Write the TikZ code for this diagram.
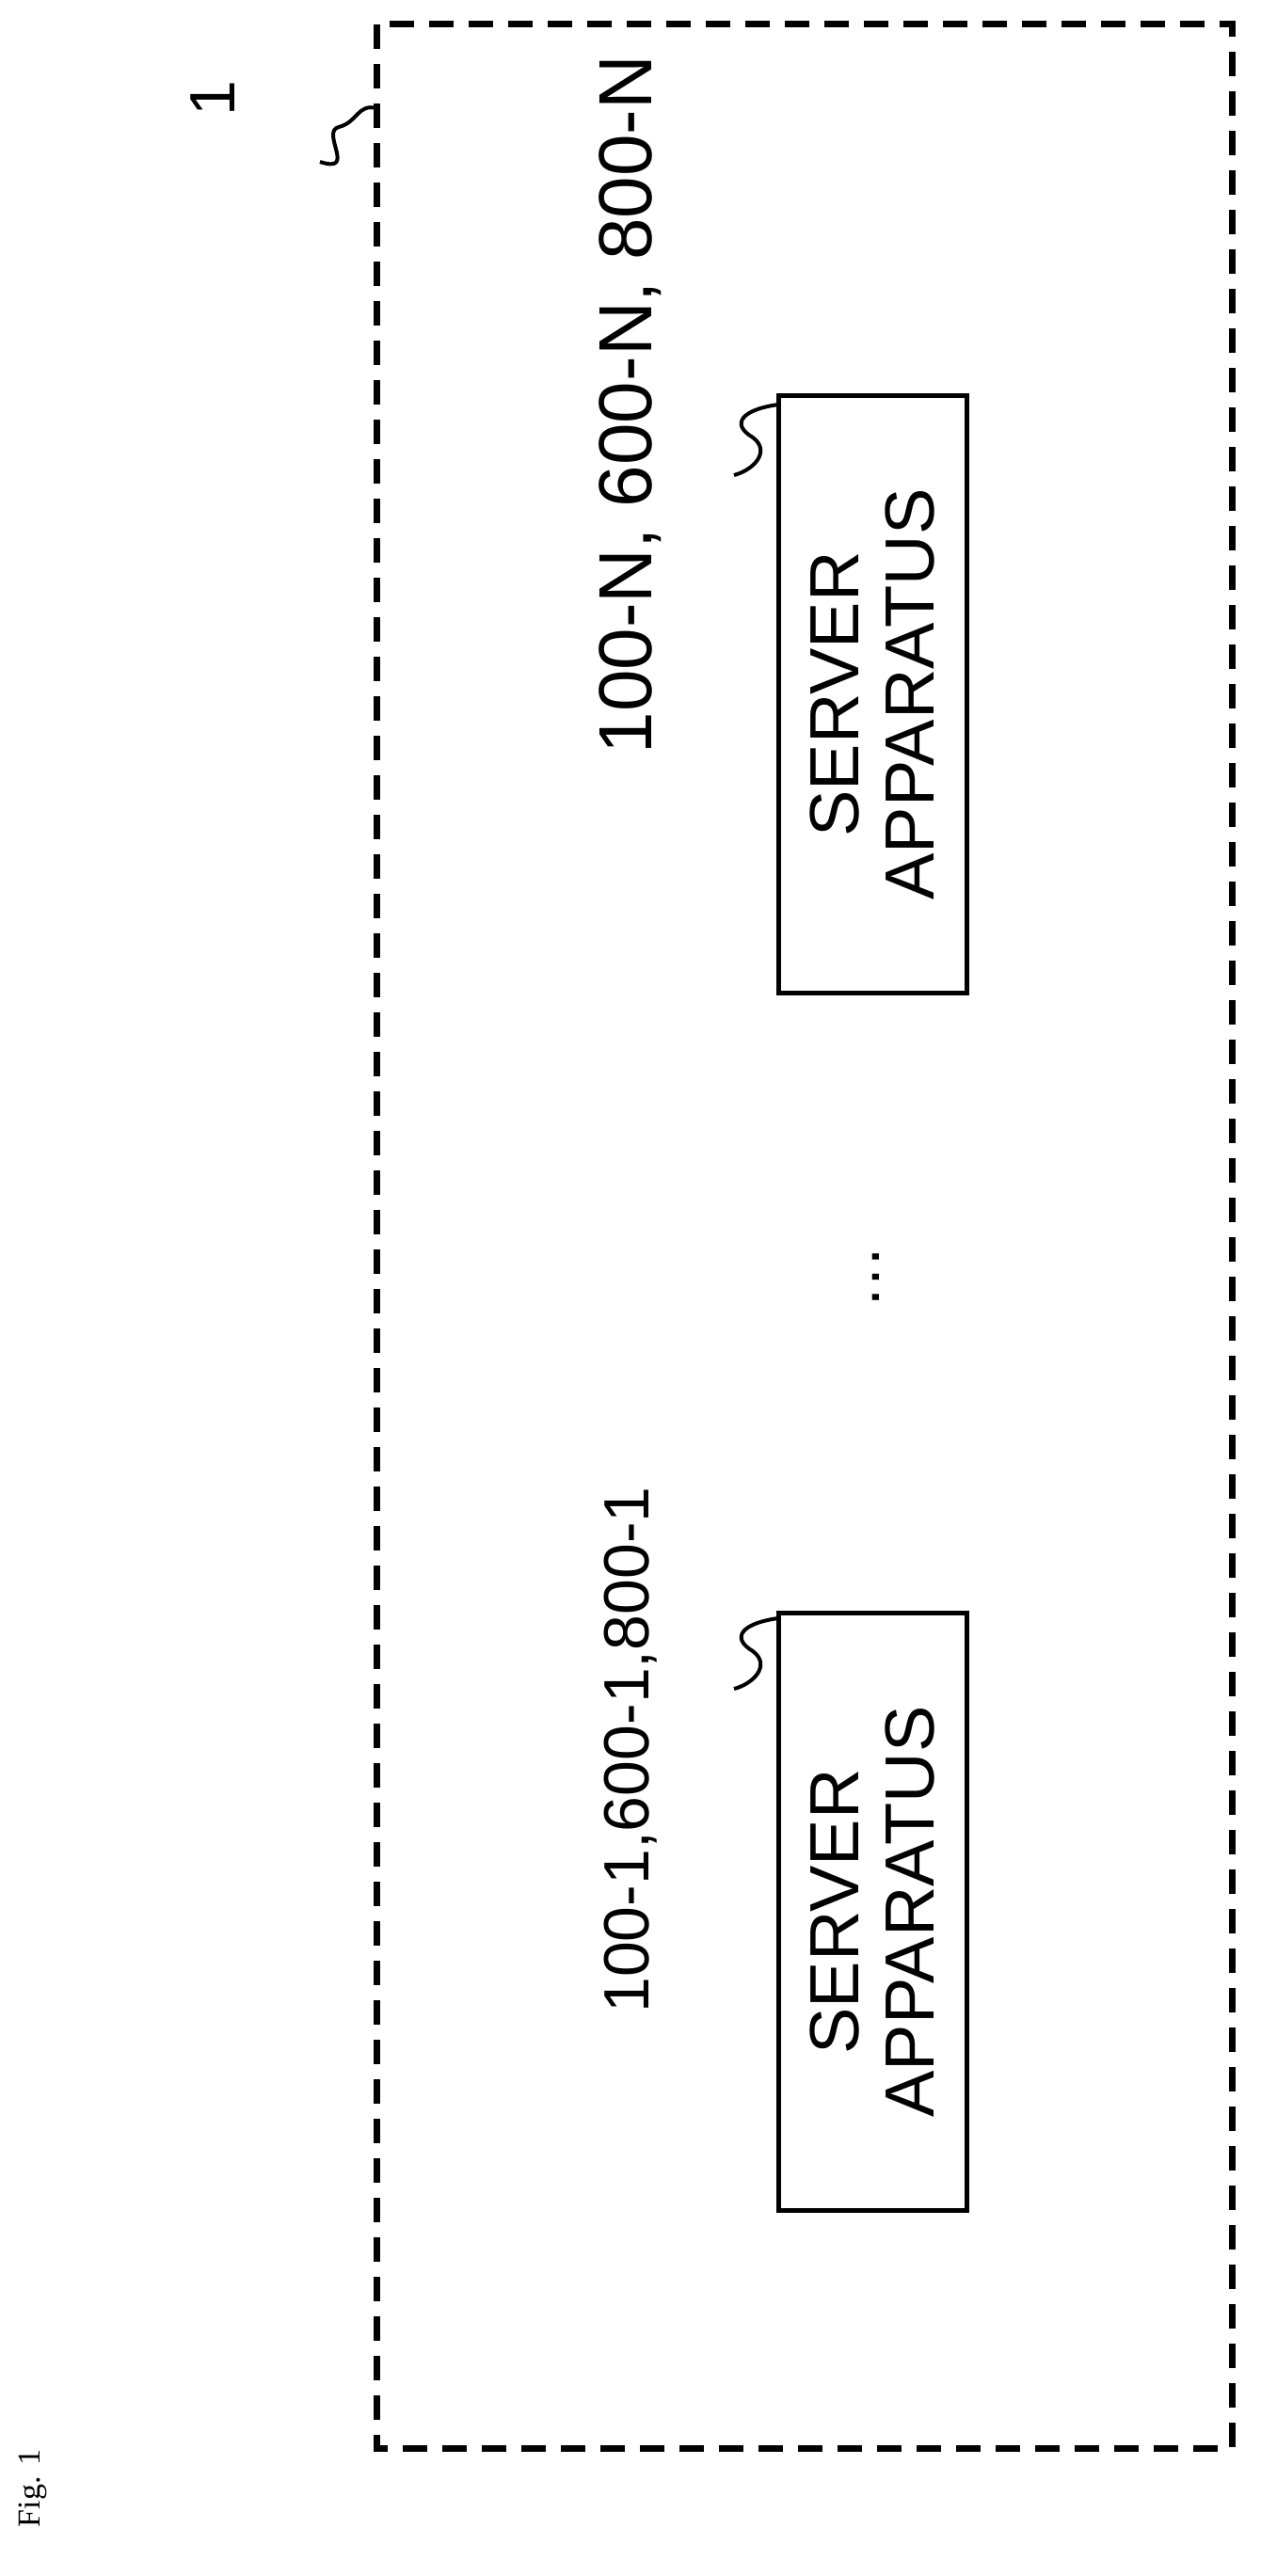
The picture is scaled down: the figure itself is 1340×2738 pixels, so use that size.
\documentclass[tikz,border=0pt]{standalone}
\usepackage{fontspec}
\setmainfont{Liberation Sans}
\newfontfamily\figfont{Liberation Serif}
\begin{document}
\begin{tikzpicture}[x=1pt,y=-1pt,
    every node/.style={font=\fontsize{68}{76}\selectfont},
    serverbox/.style={draw, line width=5pt, minimum width=635pt, minimum height=200pt,
      align=center, rotate=90, inner sep=0pt, font=\fontsize{74}{80}\selectfont},
    reflabel/.style={rotate=90, anchor=center},
    squig/.style={line width=4pt}]
  \useasboundingbox (0,0) rectangle (1340,2738);
  % outer system
  \draw[line width=7pt, dash pattern=on 26pt off 16pt] (400,26) rectangle (1309,2602);
  \node[rotate=90] (sys) at (226,105) {1};
  \draw[squig] (340,172) .. controls (380,185) and (340,140) .. (360,135)
               .. controls (380,130) and (380,110) .. (400,115);
  % servers
  \node[serverbox] (srv1) at (927,2032) {SERVER\\APPARATUS};
  \node[serverbox] (srvN) at (927,738) {SERVER\\APPARATUS};
  \node[reflabel] (lab1) at (670,1860) {100-1,600-1,800-1};
  \node[reflabel, font=\fontsize{80}{88}\selectfont] (labN) at (670,430) {100-N, 600-N, 800-N};
  \draw[squig] (827,1720) .. controls (790,1725) and (775,1740) .. (800,1755)
               .. controls (820,1770) and (800,1790) .. (780,1795);
  \draw[squig] (827,430) .. controls (790,435) and (775,450) .. (800,465)
               .. controls (820,480) and (800,500) .. (780,505);
  \node[rotate=90] (dots) at (931,1357) {\dots};
  \node[rotate=90, font=\figfont\fontsize{34}{38}\selectfont] (fig) at (35,2645) {Fig. 1};
\end{tikzpicture}
\end{document}
